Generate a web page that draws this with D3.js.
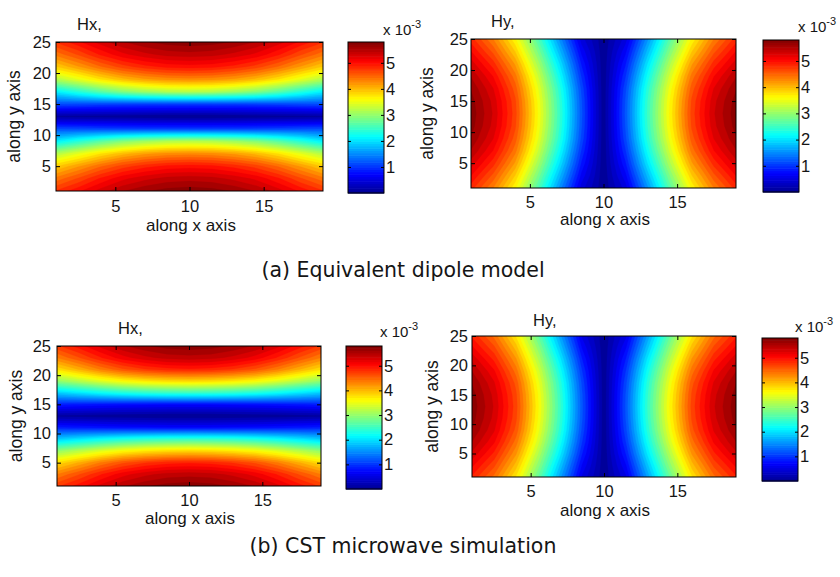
<!DOCTYPE html>
<html>
<head>
<meta charset="utf-8">
<script src="https://cdn.jsdelivr.net/npm/d3@7"></script>
<style>
  body { margin: 0; background: #fff; }
  svg { display: block; }
  text { fill: #151515; }
</style>
</head>
<body>
<svg id="fig" width="840" height="577"></svg>
<script>
// Sampling grid of the field maps (scan positions along x and y)
const gridX = [1, 2.5, 4, 5.5, 7, 8.5, 10, 11.5, 13, 14.5, 16, 17.5, 19];
const gridY = [25, 23, 21, 19, 17, 15, 13, 11, 9, 7, 5, 3, 1];

const xTicks = [5, 10, 15];
const yTicks = [5, 10, 15, 20, 25];
const colorTicks = [1, 2, 3, 4, 5];
const colorLimits = [0, 5.8];          // x 10^-3
const panelTitles = ["Hx,", "Hy,", "Hx,", "Hy,"];
const captions = ["(a) Equivalent dipole model", "(b) CST microwave simulation"];

// |Hx| from the equivalent dipole model (rows from y = 25 down to y = 1), x 10^-3
const hxDipole = [
  [4.80, 5.04, 5.29, 5.50, 5.64, 5.72, 5.75, 5.72, 5.64, 5.50, 5.29, 5.04, 4.80],
  [4.40, 4.66, 4.95, 5.18, 5.32, 5.42, 5.45, 5.42, 5.32, 5.18, 4.95, 4.66, 4.40],
  [3.90, 4.18, 4.47, 4.71, 4.87, 4.97, 5.00, 4.97, 4.87, 4.71, 4.47, 4.18, 3.90],
  [3.20, 3.48, 3.77, 4.01, 4.17, 4.27, 4.30, 4.27, 4.17, 4.01, 3.77, 3.48, 3.20],
  [2.10, 2.38, 2.67, 2.91, 3.07, 3.17, 3.20, 3.17, 3.07, 2.91, 2.67, 2.38, 2.10],
  [1.15, 1.13, 1.10, 1.08, 1.06, 1.05, 1.05, 1.05, 1.06, 1.08, 1.10, 1.13, 1.15],
  [0.10, 0.08, 0.05, 0.03, 0.01, 0.00, 0.00, 0.00, 0.01, 0.03, 0.05, 0.08, 0.10],
  [1.15, 1.13, 1.10, 1.08, 1.06, 1.05, 1.05, 1.05, 1.06, 1.08, 1.10, 1.13, 1.15],
  [2.10, 2.38, 2.67, 2.91, 3.07, 3.17, 3.20, 3.17, 3.07, 2.91, 2.67, 2.38, 2.10],
  [3.20, 3.48, 3.77, 4.01, 4.17, 4.27, 4.30, 4.27, 4.17, 4.01, 3.77, 3.48, 3.20],
  [3.90, 4.18, 4.47, 4.71, 4.87, 4.97, 5.00, 4.97, 4.87, 4.71, 4.47, 4.18, 3.90],
  [4.40, 4.66, 4.95, 5.18, 5.32, 5.42, 5.45, 5.42, 5.32, 5.18, 4.95, 4.66, 4.40],
  [4.80, 5.04, 5.29, 5.50, 5.64, 5.72, 5.75, 5.72, 5.64, 5.50, 5.29, 5.04, 4.80]
];

// |Hy| from the equivalent dipole model, x 10^-3
const hyDipole = [
  [4.85, 4.35, 3.65, 2.65, 1.55, 0.50, 0.03, 0.50, 1.55, 2.65, 3.65, 4.35, 4.85],
  [5.08, 4.60, 3.91, 2.90, 1.79, 0.68, 0.03, 0.68, 1.79, 2.90, 3.91, 4.60, 5.08],
  [5.30, 4.85, 4.18, 3.15, 2.03, 0.85, 0.03, 0.85, 2.03, 3.15, 4.18, 4.85, 5.30],
  [5.50, 5.07, 4.41, 3.37, 2.23, 1.00, 0.03, 1.00, 2.23, 3.37, 4.41, 5.07, 5.50],
  [5.64, 5.23, 4.57, 3.53, 2.39, 1.12, 0.03, 1.12, 2.39, 3.53, 4.57, 5.23, 5.64],
  [5.72, 5.32, 4.67, 3.62, 2.47, 1.18, 0.03, 1.18, 2.47, 3.62, 4.67, 5.32, 5.72],
  [5.75, 5.35, 4.70, 3.65, 2.50, 1.20, 0.03, 1.20, 2.50, 3.65, 4.70, 5.35, 5.75],
  [5.72, 5.32, 4.67, 3.62, 2.47, 1.18, 0.03, 1.18, 2.47, 3.62, 4.67, 5.32, 5.72],
  [5.64, 5.23, 4.57, 3.53, 2.39, 1.12, 0.03, 1.12, 2.39, 3.53, 4.57, 5.23, 5.64],
  [5.50, 5.07, 4.41, 3.37, 2.23, 1.00, 0.03, 1.00, 2.23, 3.37, 4.41, 5.07, 5.50],
  [5.30, 4.85, 4.18, 3.15, 2.03, 0.85, 0.03, 0.85, 2.03, 3.15, 4.18, 4.85, 5.30],
  [5.08, 4.60, 3.91, 2.90, 1.79, 0.68, 0.03, 0.68, 1.79, 2.90, 3.91, 4.60, 5.08],
  [4.85, 4.35, 3.65, 2.65, 1.55, 0.50, 0.03, 0.50, 1.55, 2.65, 3.65, 4.35, 4.85]
];

// |Hx| from the CST microwave simulation, x 10^-3
const hxCst = [
  [4.75, 5.00, 5.27, 5.49, 5.63, 5.72, 5.75, 5.72, 5.63, 5.49, 5.27, 5.00, 4.75],
  [4.35, 4.63, 4.92, 5.16, 5.32, 5.42, 5.45, 5.42, 5.32, 5.16, 4.92, 4.63, 4.35],
  [3.80, 4.08, 4.37, 4.61, 4.77, 4.87, 4.90, 4.87, 4.77, 4.61, 4.37, 4.08, 3.80],
  [3.00, 3.21, 3.44, 3.63, 3.75, 3.82, 3.85, 3.82, 3.75, 3.63, 3.44, 3.21, 3.00],
  [1.90, 2.05, 2.21, 2.34, 2.43, 2.48, 2.50, 2.48, 2.43, 2.34, 2.21, 2.05, 1.90],
  [0.90, 0.86, 0.82, 0.79, 0.77, 0.75, 0.75, 0.75, 0.77, 0.79, 0.82, 0.86, 0.90],
  [0.10, 0.08, 0.05, 0.03, 0.01, 0.00, 0.00, 0.00, 0.01, 0.03, 0.05, 0.08, 0.10],
  [0.90, 0.86, 0.82, 0.79, 0.77, 0.75, 0.75, 0.75, 0.77, 0.79, 0.82, 0.86, 0.90],
  [1.90, 2.05, 2.21, 2.34, 2.43, 2.48, 2.50, 2.48, 2.43, 2.34, 2.21, 2.05, 1.90],
  [3.00, 3.21, 3.44, 3.63, 3.75, 3.82, 3.85, 3.82, 3.75, 3.63, 3.44, 3.21, 3.00],
  [3.80, 4.08, 4.37, 4.61, 4.77, 4.87, 4.90, 4.87, 4.77, 4.61, 4.37, 4.08, 3.80],
  [4.35, 4.63, 4.92, 5.16, 5.32, 5.42, 5.45, 5.42, 5.32, 5.16, 4.92, 4.63, 4.35],
  [4.75, 5.00, 5.27, 5.49, 5.63, 5.72, 5.75, 5.72, 5.63, 5.49, 5.27, 5.00, 4.75]
];

// |Hy| from the CST microwave simulation, x 10^-3
const hyCst = [
  [4.90, 4.45, 3.75, 2.75, 1.65, 0.55, 0.03, 0.55, 1.65, 2.75, 3.75, 4.45, 4.90],
  [5.11, 4.68, 3.99, 2.98, 1.86, 0.71, 0.03, 0.71, 1.86, 2.98, 3.99, 4.68, 5.11],
  [5.33, 4.90, 4.23, 3.20, 2.08, 0.88, 0.03, 0.88, 2.08, 3.20, 4.23, 4.90, 5.33],
  [5.51, 5.10, 4.43, 3.40, 2.26, 1.02, 0.03, 1.02, 2.26, 3.40, 4.43, 5.10, 5.51],
  [5.65, 5.24, 4.59, 3.54, 2.40, 1.12, 0.03, 1.12, 2.40, 3.54, 4.59, 5.24, 5.65],
  [5.72, 5.32, 4.67, 3.62, 2.47, 1.18, 0.03, 1.18, 2.47, 3.62, 4.67, 5.32, 5.72],
  [5.75, 5.35, 4.70, 3.65, 2.50, 1.20, 0.03, 1.20, 2.50, 3.65, 4.70, 5.35, 5.75],
  [5.72, 5.32, 4.67, 3.62, 2.47, 1.18, 0.03, 1.18, 2.47, 3.62, 4.67, 5.32, 5.72],
  [5.65, 5.24, 4.59, 3.54, 2.40, 1.12, 0.03, 1.12, 2.40, 3.54, 4.59, 5.24, 5.65],
  [5.51, 5.10, 4.43, 3.40, 2.26, 1.02, 0.03, 1.02, 2.26, 3.40, 4.43, 5.10, 5.51],
  [5.33, 4.90, 4.23, 3.20, 2.08, 0.88, 0.03, 0.88, 2.08, 3.20, 4.23, 4.90, 5.33],
  [5.11, 4.68, 3.99, 2.98, 1.86, 0.71, 0.03, 0.71, 1.86, 2.98, 3.99, 4.68, 5.11],
  [4.90, 4.45, 3.75, 2.75, 1.65, 0.55, 0.03, 0.55, 1.65, 2.75, 3.75, 4.45, 4.90]
];

const fieldData = [hxDipole, hyDipole, hxCst, hyCst];

// Layout of the four subplots: plot box, colour bar box and text anchors
const layout = [
  { plot: [56, 42, 323, 191], bar: [348, 42, 384, 193], title: [77, 30],
    xTickBase: 211.5, yTickRight: 51, xLabel: [191, 230.5], yLabelX: 20, barLabel: [383, 35] },
  { plot: [471, 39, 736, 188], bar: [763, 40, 799, 192], title: [491, 27],
    xTickBase: 207.5, yTickRight: 468, xLabel: [605, 224.5], yLabelX: 433, barLabel: [798, 32] },
  { plot: [57, 346, 321, 486], bar: [346, 346, 382, 489], title: [118, 334],
    xTickBase: 505.5, yTickRight: 51, xLabel: [190, 524], yLabelX: 21.5, barLabel: [380, 336.5] },
  { plot: [472, 336, 736, 477], bar: [762, 338, 798, 481], title: [533, 326],
    xTickBase: 497, yTickRight: 468, xLabel: [605, 516], yLabelX: 438, barLabel: [795, 331.5] }
];
const captionPos = [[403, 277], [403, 553]];

const FONT = "'Liberation Sans', Arial, Helvetica, sans-serif";
const FS = 16.5;

// MATLAB-style jet colour map
const span = colorLimits[1] - colorLimits[0];
const jet = d3.scaleLinear()
  .domain([0, 1/8, 3/8, 5/8, 7/8, 1].map(f => colorLimits[0] + f * span))
  .range(["#00008f", "#0000ff", "#00ffff", "#ffff00", "#ff0000", "#800000"])
  .clamp(true);

const nLevels = 40;
const levels = d3.range(nLevels).map(i => colorLimits[0] + i * span / nLevels);

const svg = d3.select("#fig");
const defs = svg.append("defs");
const nx = gridX.length, ny = gridY.length;
const stepX = gridX[1] - gridX[0];
const stepY = gridY[1] - gridY[0];

function styleAxis(sel) {
  sel.attr("font-family", FONT).attr("font-size", FS);
  sel.select(".domain").remove();
  sel.selectAll("line").attr("stroke", "#000");
  sel.selectAll("text").attr("fill", "#151515");
}

layout.forEach((p, idx) => {
  const values = fieldData[idx];
  const [l, t, r, b] = p.plot;
  const x = d3.scaleLinear().domain([gridX[0], gridX[nx - 1]]).range([l, r]);
  const y = d3.scaleLinear().domain([gridY[ny - 1], gridY[0]]).range([b, t]);

  const clipId = "clip" + idx;
  defs.append("clipPath").attr("id", clipId)
    .append("rect").attr("x", l).attr("y", t).attr("width", r - l).attr("height", b - t);

  // filled contour bands
  const th = levels.slice();
  th[0] = colorLimits[0] - 1;
  const bands = d3.contours().size([nx, ny]).thresholds(th)(values.flat());
  const proj = d3.geoTransform({
    point(px, py) {
      this.stream.point(x(gridX[0] + (px - 0.5) * stepX), y(gridY[0] + (py - 0.5) * stepY));
    }
  });
  const path = d3.geoPath(proj);
  svg.append("g").attr("clip-path", `url(#${clipId})`)
    .selectAll("path").data(bands).join("path")
    .attr("d", path)
    .attr("fill", (d, i) => jet(levels[i] + span / nLevels / 2))
    .attr("stroke", (d, i) => jet(levels[i] + span / nLevels / 2))
    .attr("stroke-width", 0.3);

  // frame
  svg.append("rect").attr("x", l).attr("y", t).attr("width", r - l).attr("height", b - t)
    .attr("fill", "none").attr("stroke", "#000").attr("stroke-width", 1);

  // axes with inward ticks on all four sides
  svg.append("g").attr("transform", `translate(0,${b})`)
    .call(d3.axisBottom(x).tickValues(xTicks).tickSizeInner(-4).tickSizeOuter(0)
      .tickPadding(p.xTickBase - b - 0.71 * FS))
    .call(styleAxis);
  svg.append("g").attr("transform", `translate(0,${t})`)
    .call(d3.axisTop(x).tickValues(xTicks).tickSizeInner(-4).tickSizeOuter(0).tickFormat(() => ""))
    .call(styleAxis);
  svg.append("g").attr("transform", `translate(${l},0)`)
    .call(d3.axisLeft(y).tickValues(yTicks).tickSizeInner(-4).tickSizeOuter(0)
      .tickPadding(l - p.yTickRight))
    .call(styleAxis);
  svg.append("g").attr("transform", `translate(${r},0)`)
    .call(d3.axisRight(y).tickValues(yTicks).tickSizeInner(-4).tickSizeOuter(0).tickFormat(() => ""))
    .call(styleAxis);

  // axis titles
  svg.append("text").attr("x", p.xLabel[0]).attr("y", p.xLabel[1])
    .attr("text-anchor", "middle").attr("font-family", FONT).attr("font-size", 17)
    .text("along x axis");
  svg.append("text")
    .attr("transform", `translate(${p.yLabelX},${(t + b) / 2}) rotate(-90)`)
    .attr("text-anchor", "middle").attr("font-family", FONT).attr("font-size", 17.5)
    .text("along y axis");
  svg.append("text").attr("x", p.title[0]).attr("y", p.title[1])
    .attr("font-family", FONT).attr("font-size", 16.5)
    .text(panelTitles[idx]);

  // colour bar
  const [bl, bt, br, bb] = p.bar;
  const cy = d3.scaleLinear().domain(colorLimits).range([bb, bt]);
  const nSteps = 64;
  const stepVals = d3.range(nSteps).map(i => colorLimits[0] + i * span / nSteps);
  svg.append("g").selectAll("rect").data(stepVals).join("rect")
    .attr("x", bl).attr("width", br - bl)
    .attr("y", v => cy(v + span / nSteps))
    .attr("height", v => cy(v) - cy(v + span / nSteps) + 0.6)
    .attr("fill", v => jet(v + span / nSteps / 2));
  svg.append("rect").attr("x", bl).attr("y", bt).attr("width", br - bl).attr("height", bb - bt)
    .attr("fill", "none").attr("stroke", "#000").attr("stroke-width", 1);
  svg.append("g").attr("transform", `translate(${br},0)`)
    .call(d3.axisRight(cy).tickValues(colorTicks).tickFormat(d3.format("d"))
      .tickSizeInner(-3).tickSizeOuter(0).tickPadding(2))
    .call(styleAxis);
  svg.append("g").attr("transform", `translate(${bl},0)`)
    .call(d3.axisLeft(cy).tickValues(colorTicks).tickSizeInner(-3).tickSizeOuter(0).tickFormat(() => ""))
    .call(styleAxis);

  const exp = svg.append("text").attr("x", p.barLabel[0]).attr("y", p.barLabel[1])
    .attr("font-family", FONT).attr("font-size", 15);
  exp.append("tspan").text("x 10");
  exp.append("tspan").attr("dy", -7).attr("font-size", 11).text("-3");
});

// sub-figure captions
captions.forEach((c, i) => {
  svg.append("text").attr("x", captionPos[i][0]).attr("y", captionPos[i][1])
    .attr("text-anchor", "middle")
    .attr("font-family", "'DejaVu Sans', Verdana, sans-serif").attr("font-size", 20.5)
    .attr("fill", "#111")
    .text(c);
});
</script>
</body>
</html>
